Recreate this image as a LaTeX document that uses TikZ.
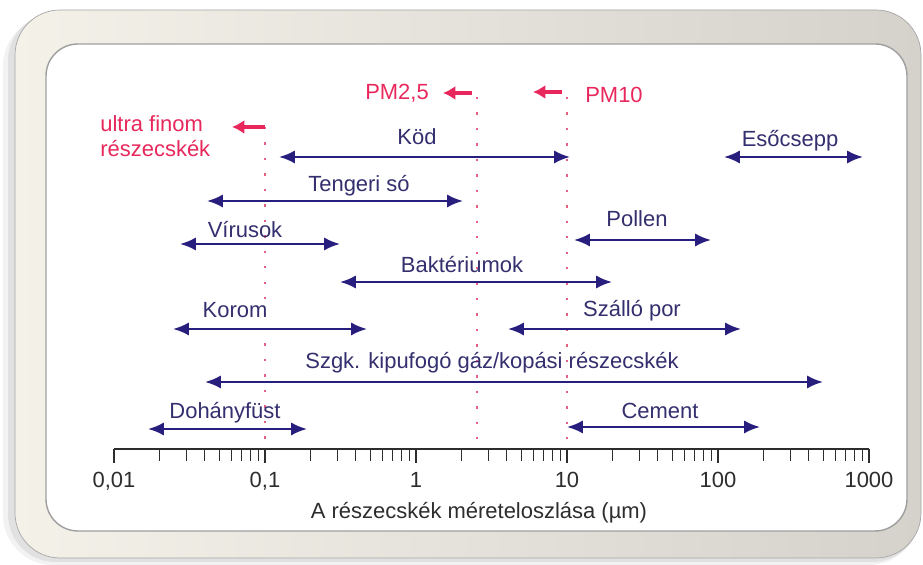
\documentclass[tikz,border=0pt]{standalone}
\usepackage{fontspec}
\setmainfont{Liberation Sans}
\usetikzlibrary{arrows.meta}

\definecolor{rangeblue}{RGB}{40,30,125}
\definecolor{labelblue}{RGB}{52,47,110}
\definecolor{pmred}{RGB}{232,40,92}
\definecolor{cutred}{RGB}{228,95,130}
\definecolor{frameleft}{RGB}{243,241,232}
\definecolor{frameright}{RGB}{212,210,203}
\definecolor{axisgray}{RGB}{45,45,45}

\begin{document}
\begin{tikzpicture}[
        rng/.style={rangeblue, line width=1.4pt, {Latex[length=9pt,width=7.5pt]}-{Latex[length=9pt,width=7.5pt]}},
        lbl/.style={labelblue, anchor=base, inner sep=0pt, font=\fontsize{12.5}{15}\selectfont},
        pmarrow/.style={pmred, line width=2.6pt, -{Latex[length=7pt,width=8pt]}},
        pmlbl/.style={pmred, anchor=base, inner sep=0pt, font=\fontsize{12.5}{15}\selectfont},
        cutline/.style={cutred, line width=1.3pt, dash pattern=on 1.3pt off 7.5pt},
        ticklbl/.style={axisgray, anchor=base, inner sep=0pt, font=\fontsize{12.5}{15}\selectfont}
    ]
        \useasboundingbox (0, 0) rectangle (18.46, 11.3);

        % keret
        \fill[black, opacity=0.05, rounded corners=1cm] (0.06, 0) rectangle (18.38, 10.98);
        \fill[black, opacity=0.07, rounded corners=0.95cm] (0.16, 0.06) rectangle (18.4, 11.04);
        \shadedraw[left color=frameleft, right color=frameright, draw=gray!70, rounded corners=0.9cm] (0.3, 0.14) rectangle (18.42, 11.1);
        \filldraw[fill=white, draw=gray!75, line width=0.8pt, rounded corners=0.64cm] (0.92, 0.68) rectangle (18.14, 10.42);

        % tengely
        \draw[axisgray, line width=0.8pt] (2.28, 2.32) -- (17.38, 2.32);
        \foreach \d in {0,...,5}
            \draw[axisgray, line width=1.4pt] ({2.28+3.02*\d}, 2.32) -- ++(0, -0.28);
        \foreach \d in {0,...,4}
            \foreach \m in {2,...,9}
                \draw[axisgray, line width=0.6pt] ({2.28+3.02*(\d+log10(\m))}, 2.32) -- ++(0, -0.24);
        \foreach \d/\t in {0/{0,01}, 1/{0,1}, 2/1, 3/10, 4/100, 5/1000}
            \node[ticklbl] (tick\d) at ({2.28+3.02*\d}, 1.54) {\t};
        \node[ticklbl] (axistitle) at (9.58, 0.92) {A részecskék méreteloszlása (µm)};

        % PM hatarok
        \draw[cutline] (5.30, 8.76) -- (5.30, 2.36);
        \draw[cutline] (9.54, 9.36) -- (9.54, 2.36);
        \draw[cutline] (11.34, 9.36) -- (11.34, 2.36);

        \draw[pmarrow] (5.30, 8.76) -- (4.64, 8.76);
        \draw[pmarrow] (9.44, 9.44) -- (8.86, 9.44);
        \draw[pmarrow] (11.24, 9.46) -- (10.66, 9.46);

        \node[pmlbl] (pm25) at (7.94, 9.30) {PM2,5};
        \node[pmlbl] (pm10) at (12.28, 9.24) {PM10};
        \node[pmlbl, anchor=base west] (ultra) at (2.0, 8.66) {ultra finom};
        \node[pmlbl, anchor=base west] (ultra2) at (2.0, 8.16) {részecskék};

        % tartomanyok
        \draw[rng] (5.58, 8.16) -- (11.40, 8.16);
        \node[lbl] (kod) at (8.34, 8.40) {Köd};

        \draw[rng] (14.48, 8.16) -- (17.26, 8.16);
        \node[lbl] (esocsepp) at (15.80, 8.36) {Esőcsepp};

        \draw[rng] (4.14, 7.28) -- (9.26, 7.28);
        \node[lbl] (tengeri) at (7.18, 7.46) {Tengeri só};

        \draw[rng] (3.60, 6.42) -- (6.80, 6.42);
        \node[lbl] (virus) at (4.90, 6.54) {Vírusok};

        \draw[rng] (11.48, 6.50) -- (14.22, 6.50);
        \node[lbl] (pollen) at (12.74, 6.76) {Pollen};

        \draw[rng] (6.80, 5.66) -- (12.24, 5.66);
        \node[lbl] (bakt) at (9.24, 5.84) {Baktériumok};

        \draw[rng] (3.46, 4.72) -- (7.34, 4.72);
        \node[lbl] (korom) at (4.70, 4.94) {Korom};

        \draw[rng] (10.16, 4.72) -- (14.82, 4.72);
        \node[lbl] (por) at (12.64, 4.96) {Szálló por};

        \draw[rng] (4.10, 3.66) -- (16.46, 3.66);
        \node[lbl] (szgk) at (9.84, 3.92) {Szgk. kipufogó gáz/kopási részecskék};

        \draw[rng] (2.96, 2.72) -- (6.14, 2.72);
        \node[lbl] (dohany) at (4.50, 2.92) {Dohányfüst};

        \draw[rng] (11.34, 2.76) -- (15.20, 2.76);
        \node[lbl] (cement) at (13.20, 2.92) {Cement};
    \end{tikzpicture}
\end{document}
